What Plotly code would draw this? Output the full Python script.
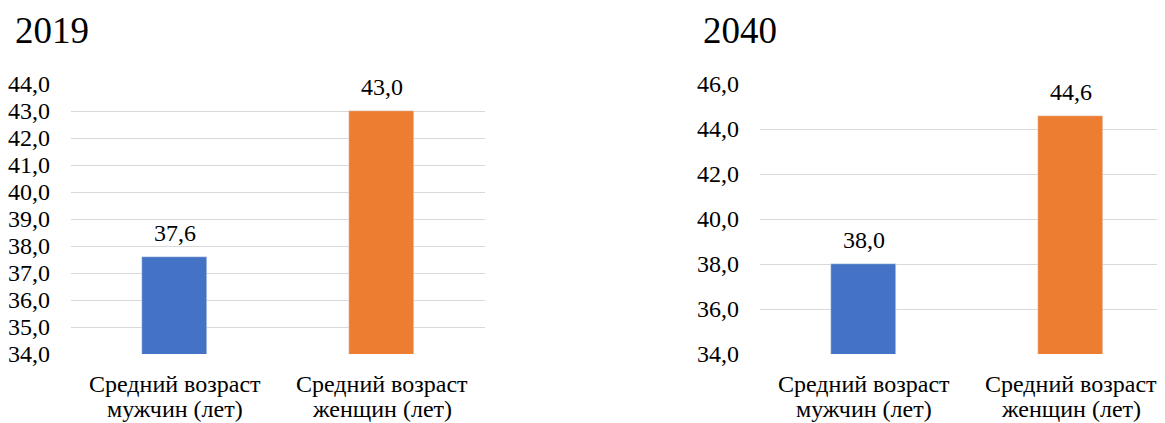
import plotly.graph_objects as go

categories = ["Средний возраст\nмужчин (лет)", "Средний возраст\nженщин (лет)"]
values_2019 = [37.6, 43.0]
values_2040 = [38.0, 44.6]
colors = ["#4472C4", "#ED7D31"]
titles = ["2019", "2040"]

# page body has an 8px margin; size the figure to fill the rest of the window
OFF = 8
W, H = 1165 - OFF, 423 - OFF
FONT = "Liberation Serif, Tinos, Times New Roman, Times, Noto Serif, DejaVu Serif, serif"

def px_x(x):
    return (x - OFF) / W

def px_y(y):
    return 1 - (y - OFF) / H

def fmt(v):
    return f"{v:.1f}".replace(".", ",")

fig = go.Figure()
fig.add_trace(go.Bar(x=categories, y=values_2019, marker_color=colors, width=0.314,
                     xaxis="x", yaxis="y", showlegend=False, hoverinfo="skip"))
fig.add_trace(go.Bar(x=categories, y=values_2040, marker_color=colors, width=0.314,
                     xaxis="x2", yaxis="y2", showlegend=False, hoverinfo="skip"))

annotations = []
for xr, yr, vals in (("x", "y", values_2019), ("x2", "y2", values_2040)):
    for c, v in zip(categories, vals):
        annotations.append(dict(x=c, y=v, xref=xr, yref=yr, text=fmt(v), showarrow=False,
                                yanchor="bottom", yshift=9,
                                font=dict(family=FONT, size=24, color="black")))
        # category labels, one annotation per line (tighter line spacing than tick labels)
        for line, ymid in zip(c.split("\n"), (384, 409)):
            annotations.append(dict(x=c, y=px_y(ymid), xref=xr, yref="paper", text=line,
                                    showarrow=False, yanchor="middle",
                                    font=dict(family=FONT, size=24, color="black")))

annotations.append(dict(x=px_x(13), y=px_y(30.5), xref="paper", yref="paper", text=titles[0],
                        showarrow=False, xanchor="left", yanchor="middle",
                        font=dict(family=FONT, size=37, color="black")))
annotations.append(dict(x=px_x(701), y=px_y(30.5), xref="paper", yref="paper", text=titles[1],
                        showarrow=False, xanchor="left", yanchor="middle",
                        font=dict(family=FONT, size=37, color="black")))

ydom = [px_y(354), px_y(84)]
axis_common = dict(showline=False, zeroline=False, ticks="", automargin=False)
ytick_font = dict(family=FONT, size=24, color="black")

fig.update_layout(
    width=W, height=H,
    margin=dict(l=0, r=0, t=0, b=0),
    plot_bgcolor="white", paper_bgcolor="white",
    font=dict(family=FONT, color="black"),
    annotations=annotations,
    bargap=0,
    xaxis=dict(domain=[px_x(71), px_x(485)], range=[-0.5, 1.5], showgrid=False,
               showticklabels=False, **axis_common),
    yaxis=dict(domain=ydom, range=[34, 44], dtick=1, tickformat=".1f",
               showgrid=True, gridcolor="#D9D9D9", gridwidth=1,
               ticklabelstandoff=20, tickfont=ytick_font, **axis_common),
    xaxis2=dict(domain=[px_x(760), 1.0], range=[-0.5, -0.5 + (1165 - 760) / 207], showgrid=False,
                showticklabels=False, anchor="y2", **axis_common),
    yaxis2=dict(domain=ydom, range=[34, 46], dtick=2, tickformat=".1f", anchor="x2",
                showgrid=True, gridcolor="#D9D9D9", gridwidth=1,
                ticklabelstandoff=20, tickfont=ytick_font, **axis_common),
    separators=", ",
)

fig.write_html("out.html")
